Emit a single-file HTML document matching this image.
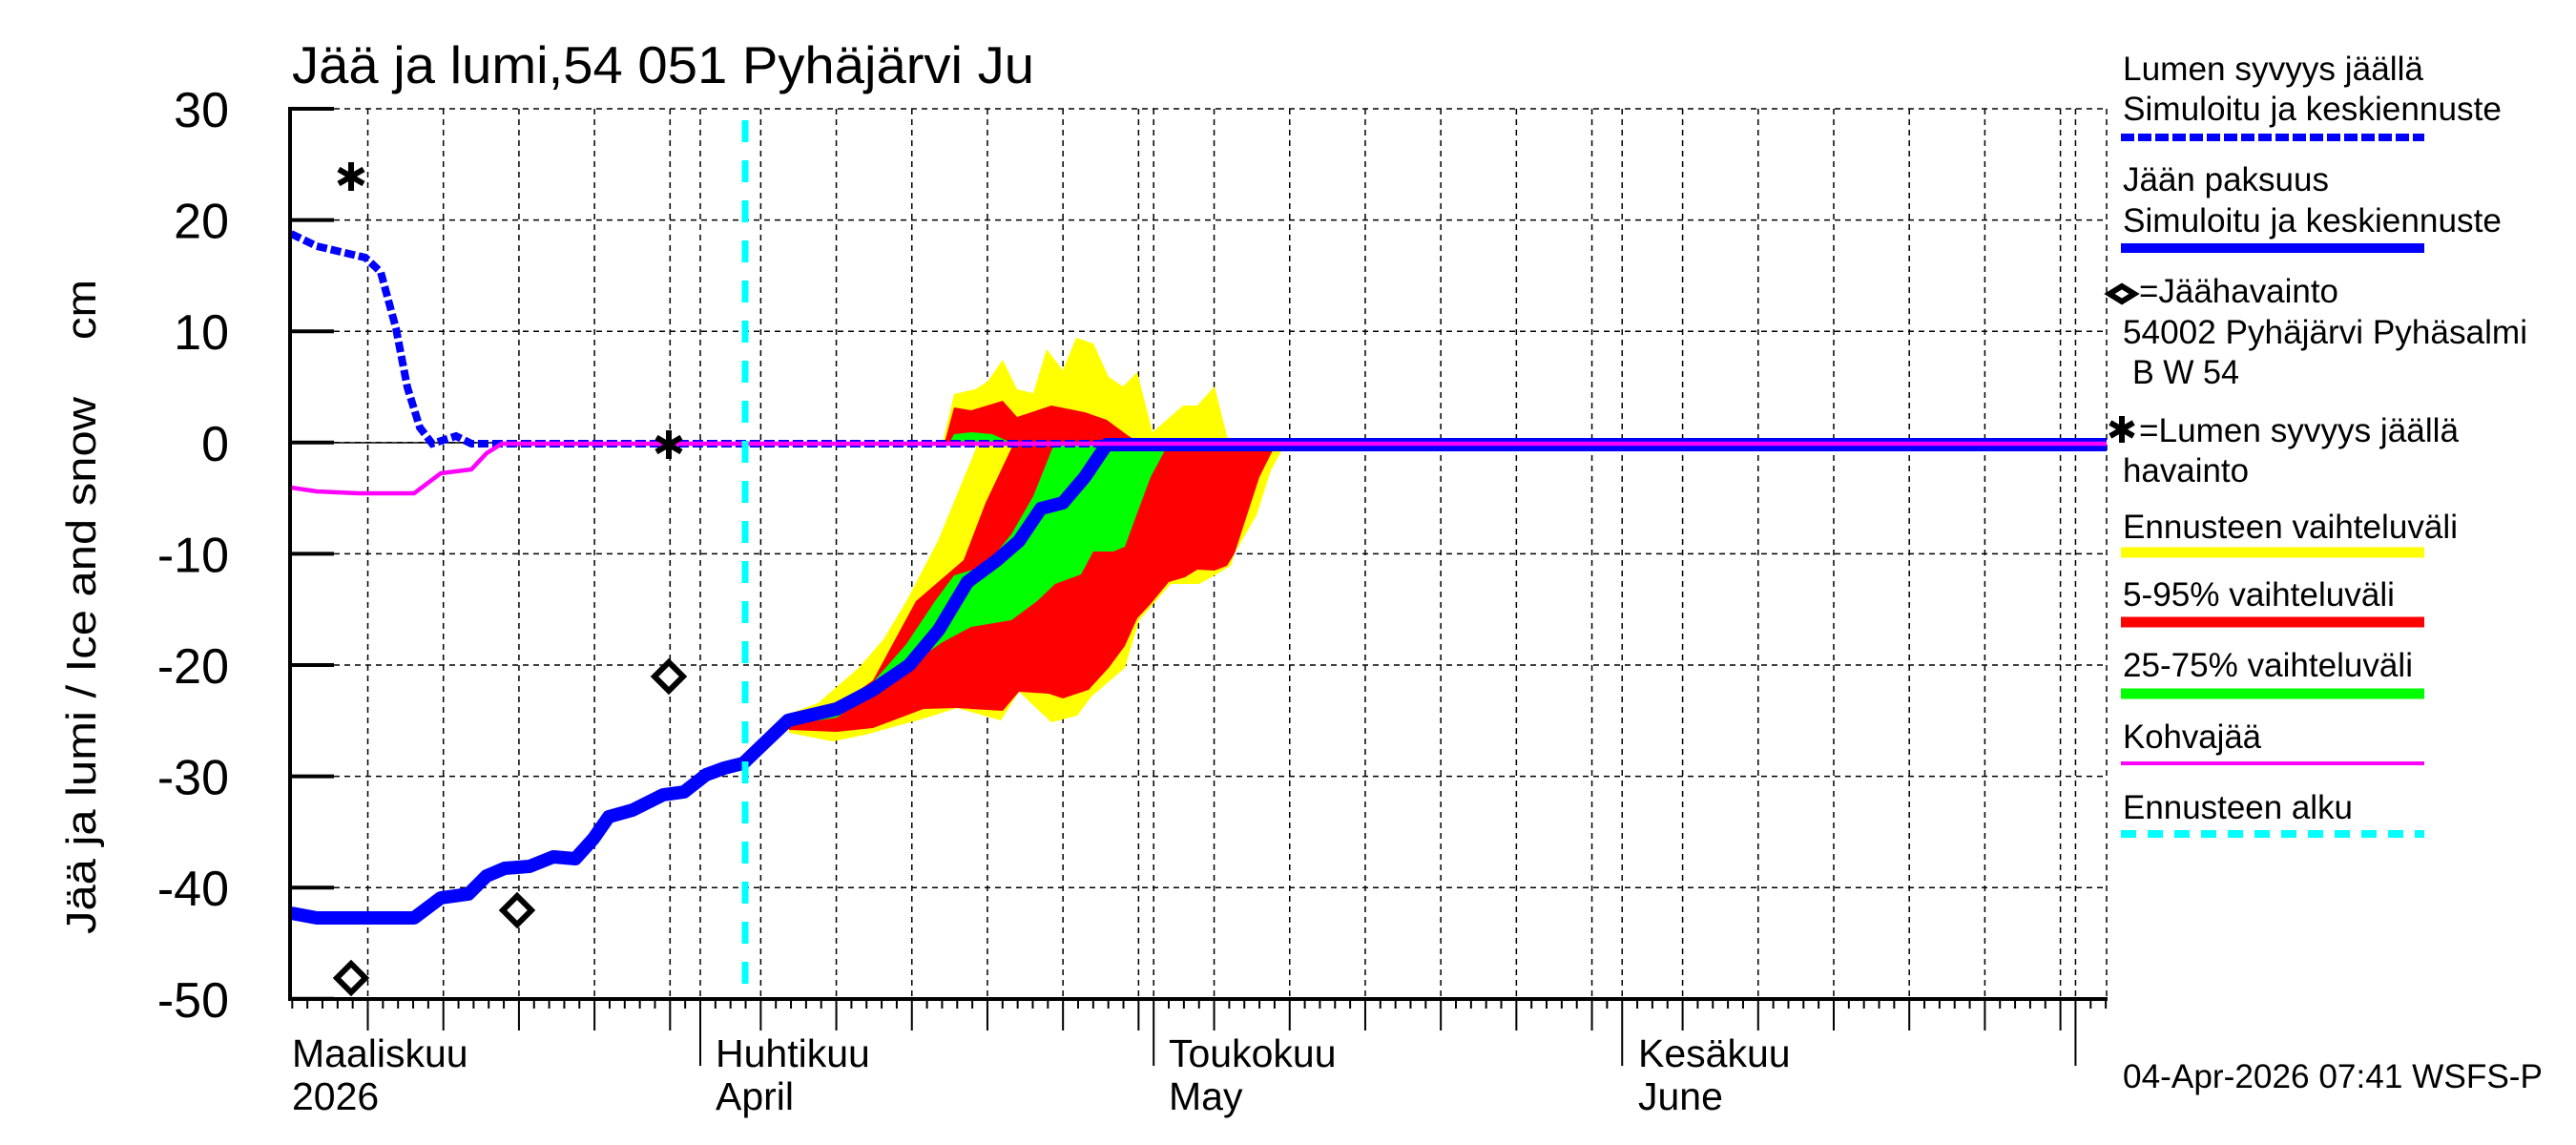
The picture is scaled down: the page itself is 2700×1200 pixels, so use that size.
<!DOCTYPE html>
<html><head><meta charset="utf-8"><style>
html,body{margin:0;padding:0;background:#fff;}
svg{display:block;font-family:"Liberation Sans",sans-serif;}
</style></head><body>
<svg id="s" width="2700" height="1200" viewBox="0 0 2700 1200" xmlns="http://www.w3.org/2000/svg">
<rect width="2700" height="1200" fill="#fff"/>
<g id="grid" stroke="#000" stroke-width="1.5" stroke-dasharray="6 5" fill="none"></g>
<g id="ticks" stroke="#000" stroke-width="2" fill="none"></g>
<line x1="304" y1="464" x2="2208" y2="464" stroke="#000" stroke-width="1.5"/>
<polygon fill="#ffff00" points="827,748 857,737 900,700 926,670 950,630 983,567 1023,470 1023,464 1343,464 1343,473 1332,493 1317,540 1294,580 1290,593 1273,603 1257,612 1227,612 1194,650 1179,700 1144,730 1129,750 1102,757 1068,725 1049,755 1003,742 972,752 907,770 873,777 827,768"/>
<polygon fill="#ff0000" points="827,752 877,740 915,713 960,630 1010,587 1033,527 1060,470 1060,464 1334,464 1334,472 1320,500 1294,580 1286,593 1273,598 1255,597 1242,605 1225,610 1206,633 1192,648 1179,677 1162,700 1141,723 1114,732 1099,727 1068,725 1051,745 1003,742 968,743 915,763 877,767 827,765"/>
<polygon fill="#00ff00" points="827,753 877,741 915,715 950,675 980,630 1000,603 1033,593 1060,560 1083,520 1103,470 1106,464 1221,464 1221,472 1206,500 1190,543 1179,573 1167,578 1146,578 1133,602 1106,612 1087,630 1060,650 1018,657 988,673 953,697 915,727 877,752 827,760"/>
<polygon fill="#ffff00" points="988,464 1000,413 1022,408 1035,400 1051,377 1066,408 1083,412 1097,366 1114,388 1128,354 1146,360 1162,395 1177,405 1192,390 1208,453 1240,425 1255,425 1273,405 1286,457 1290,464"/>
<polygon fill="#ff0000" points="990,464 1000,427 1018,430 1051,420 1066,437 1102,425 1137,432 1160,440 1183,457 1195,464"/>
<polygon fill="#00ff00" points="995,464 1000,455 1018,453 1040,455 1060,464"/>
<polyline fill="none" stroke="#0000ff" stroke-width="14" stroke-linejoin="round" points="305,957 332,962 434,962 462,941 491,937 510,918 529,910 555,908 580,898 603,900 622,879 638,856 663,849 695,833 717,830 740,812 759,805 779,800 804,776 826,755 877,743 915,723 953,697 984,660 1014,610 1045,587 1068,567 1091,533 1114,527 1137,500 1160,466 2208,466"/>
<polyline fill="none" stroke="#0000ff" stroke-width="8" stroke-dasharray="11 4" points="305,245 332,258 383,270 399,285 415,344 427,406 440,448 453,465 478,457 494,465 2208,465"/>
<polyline fill="none" stroke="#ff00ff" stroke-width="4.5" points="305,511 332,515 376,517 434,517 462,496 494,492 510,475 526,465 2208,465"/>
<line x1="781" y1="126" x2="781" y2="1047" stroke="#00ffff" stroke-width="7" stroke-dasharray="23 19"/>
<line x1="304" y1="112" x2="304" y2="1049" stroke="#000" stroke-width="4"/>
<line x1="302" y1="1047" x2="2209" y2="1047" stroke="#000" stroke-width="4"/>
<g id="yt" stroke="#000" stroke-width="4"></g>
<g fill="#fff" stroke="#000" stroke-width="6">
<polygon points="368,1010 383,1025 368,1040 353,1025"/>
<polygon points="542,939 557,954 542,969 527,954"/>
<polygon points="701,694 716,709 701,724 686,709"/>
</g>
<g stroke="#000" stroke-width="6" id="ast"></g>
<text x="306" y="87" font-size="55" textLength="778" lengthAdjust="spacingAndGlyphs">Jää ja lumi,54 051 Pyhäjärvi Ju</text>
<g font-size="52" text-anchor="end" id="ylab"></g>
<text transform="translate(100,979) rotate(-90)" font-size="44" textLength="563" lengthAdjust="spacingAndGlyphs">Jää ja lumi / Ice and snow</text>
<text transform="translate(100,356) rotate(-90)" font-size="44" textLength="63" lengthAdjust="spacingAndGlyphs">cm</text>
<g font-size="41">
<text x="306" y="1118">Maaliskuu</text><text x="306" y="1163">2026</text>
<text x="750" y="1118">Huhtikuu</text><text x="750" y="1163">April</text>
<text x="1225" y="1118">Toukokuu</text><text x="1225" y="1163">May</text>
<text x="1717" y="1118">Kesäkuu</text><text x="1717" y="1163">June</text>
</g>
<g font-size="35">
<text x="2225" y="84" textLength="315" lengthAdjust="spacingAndGlyphs">Lumen syvyys jäällä</text>
<text x="2225" y="126" textLength="397" lengthAdjust="spacingAndGlyphs">Simuloitu ja keskiennuste</text>
<text x="2225" y="200" textLength="216" lengthAdjust="spacingAndGlyphs">Jään paksuus</text>
<text x="2225" y="243" textLength="397" lengthAdjust="spacingAndGlyphs">Simuloitu ja keskiennuste</text>
<text x="2242" y="317" textLength="209" lengthAdjust="spacingAndGlyphs">=Jäähavainto</text>
<text x="2225" y="360" textLength="424" lengthAdjust="spacingAndGlyphs">54002 Pyhäjärvi Pyhäsalmi</text>
<text x="2235" y="402" textLength="112" lengthAdjust="spacingAndGlyphs">B W 54</text>
<text x="2242" y="463" textLength="335" lengthAdjust="spacingAndGlyphs">=Lumen syvyys jäällä</text>
<text x="2225" y="505" textLength="132" lengthAdjust="spacingAndGlyphs">havainto</text>
<text x="2225" y="564" textLength="351" lengthAdjust="spacingAndGlyphs">Ennusteen vaihteluväli</text>
<text x="2225" y="635" textLength="285" lengthAdjust="spacingAndGlyphs">5-95% vaihteluväli</text>
<text x="2225" y="709" textLength="304" lengthAdjust="spacingAndGlyphs">25-75% vaihteluväli</text>
<text x="2225" y="784" textLength="145" lengthAdjust="spacingAndGlyphs">Kohvajää</text>
<text x="2225" y="858" textLength="241" lengthAdjust="spacingAndGlyphs">Ennusteen alku</text>
<text x="2225" y="1140" textLength="440" lengthAdjust="spacingAndGlyphs">04-Apr-2026 07:41 WSFS-P</text>
</g>
<line x1="2223" y1="144" x2="2541" y2="144" stroke="#0000ff" stroke-width="8" stroke-dasharray="14 4"/>
<line x1="2223" y1="260" x2="2541" y2="260" stroke="#0000ff" stroke-width="10"/>
<line x1="2223" y1="579" x2="2541" y2="579" stroke="#ffff00" stroke-width="11"/>
<line x1="2223" y1="652" x2="2541" y2="652" stroke="#ff0000" stroke-width="11"/>
<line x1="2223" y1="727" x2="2541" y2="727" stroke="#00ff00" stroke-width="11"/>
<line x1="2223" y1="800" x2="2541" y2="800" stroke="#ff00ff" stroke-width="4"/>
<line x1="2223" y1="874" x2="2541" y2="874" stroke="#00ffff" stroke-width="8" stroke-dasharray="16 12"/>
<polygon points="2211,308 2224,300 2237,308 2224,316" fill="#fff" stroke="#000" stroke-width="6"/>
</svg>
<script>
(function(){
var NS="http://www.w3.org/2000/svg";
function el(p,t,a){var e=document.createElementNS(NS,t);for(var k in a)e.setAttribute(k,a[k]);p.appendChild(e);return e;}
var g=document.getElementById('grid'),tk=document.getElementById('ticks'),yt=document.getElementById('yt'),yl=document.getElementById('ylab');
function X(d){return 734+d*15.84;}
var monthStarts={"-31":1,"0":1,"30":1,"61":1,"91":1};
var gridDays=[-22,-17,-12,-7,-2,0,30,61,91,4,9,14,19,24,29,34,39,44,49,54,59,65,70,75,80,85,90];
gridDays.forEach(function(d){var x=X(d);el(g,'line',{x1:x,y1:114,x2:x,y2:1045});});
el(g,'line',{x1:2208,y1:114,x2:2208,y2:1045});
for(var d=-27;d<=93;d++){var x=X(d);if(x<305||x>2208)continue;
 var len=10;if(gridDays.indexOf(d)>=0)len=33;if(monthStarts[d])len=70;
 el(tk,'line',{x1:x,y1:1047,x2:x,y2:1047+len});}
for(var v=30;v>=-50;v-=10){var y=114+(30-v)*11.66;
 if(v>-50)el(g,'line',{x1:350,y1:y,x2:2208,y2:y});
 el(yt,'line',{x1:304,y1:y,x2:350,y2:y});
 var t=el(yl,'text',{x:240,y:y+19});t.textContent=String(v);}
var a=document.getElementById('ast');
function ast(cx,cy,r){el(a,'line',{x1:cx,y1:cy-r,x2:cx,y2:cy+r});el(a,'line',{x1:cx-r*0.87,y1:cy-r*0.5,x2:cx+r*0.87,y2:cy+r*0.5});el(a,'line',{x1:cx-r*0.87,y1:cy+r*0.5,x2:cx+r*0.87,y2:cy-r*0.5});}
ast(368,185,15);ast(701,466,15);ast(2224,450,14);
})();
</script>
</body></html>
